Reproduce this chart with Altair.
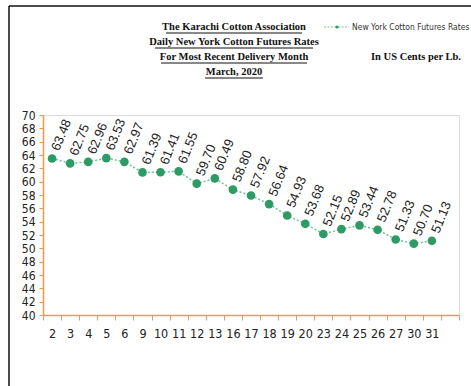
import altair as alt
import pandas as pd

# Daily New York cotton futures, March 2020 (US cents per lb)
days = ["2", "3", "4", "5", "6", "9", "10", "11", "12", "13", "16", "17",
        "18", "19", "20", "23", "24", "25", "26", "27", "30", "31"]
rates = [63.48, 62.75, 62.96, 63.53, 62.97, 61.39, 61.41, 61.55, 59.70, 60.49,
         58.80, 57.92, 56.64, 54.93, 53.68, 52.15, 52.89, 53.44, 52.78, 51.33,
         50.70, 51.13]
y_ticks = list(range(40, 71, 2))

title_lines = ["The Karachi Cotton Association",
               "Daily New York Cotton Futures Rates",
               "For  Most Recent Delivery Month",
               "March,  2020"]
series_name = "New  York  Cotton Futures Rates"
unit_note = "In US Cents per Lb."

ORANGE = "#F79646"
GREEN = "#2E9A66"
LIGHT_GREEN = "#6CC495"
SANS = "DejaVu Sans Condensed, Liberation Sans, sans-serif"
SERIF = "Liberation Serif, serif"

df = pd.DataFrame({"day": days, "rate": rates})
one = pd.DataFrame({"k": [0]})

W, H = 416, 200

x_enc = alt.X(
    "day:N",
    sort=days,
    scale=alt.Scale(type="band", domain=days + [" "], paddingInner=0, paddingOuter=0),
    axis=alt.Axis(title=None, labelAngle=0, tickBand="extent", domainColor=ORANGE,
                  domainWidth=1.5, tickColor=ORANGE, tickSize=5, tickWidth=1,
                  labelPadding=7, labelFont=SANS, labelFontSize=12.5,
                  labelColor="#222222", grid=False),
)
y_enc = alt.Y(
    "rate:Q",
    scale=alt.Scale(domain=[40, 70], nice=False, zero=False),
    axis=alt.Axis(title=None, values=y_ticks, domainColor=ORANGE, domainWidth=1.5,
                  tickColor=ORANGE, tickSize=4, labelPadding=4, labelFont=SANS,
                  labelFontSize=12, labelColor="#222222", grid=False, labelOverlap=False),
)

base = alt.Chart(df).encode(x=x_enc, y=y_enc)

line = base.mark_line(color=LIGHT_GREEN, strokeWidth=1.5, strokeDash=[2, 2])
points = base.mark_circle(color=GREEN, size=75, opacity=1)
labels = base.mark_text(angle=292, align="left", baseline="middle", dx=9,
                        font="Liberation Sans, sans-serif", fontSize=13,
                        color="#222222").encode(text=alt.Text("rate:Q", format=".2f"))

# frame lines along the top and left edges
frame_top = alt.Chart(one).mark_rule(color="#111111", strokeWidth=1.5).encode(
    x=alt.value(-34), x2=alt.value(430), y=alt.value(-109))
frame_left = alt.Chart(one).mark_rule(color="#111111", strokeWidth=1.5).encode(
    x=alt.value(-34), y=alt.value(-109), y2=alt.value(275))

# centred heading block with underlines
title_y = [-88, -73, -58, -43]
under_w = [136, 158, 146, 58]
heading = []
for txt, ty, uw in zip(title_lines, title_y, under_w):
    heading.append(alt.Chart(one).mark_text(
        font=SERIF, fontSize=10.5, fontWeight="bold", align="center",
        baseline="middle", color="#111111").encode(
        x=alt.value(191), y=alt.value(ty), text=alt.value(txt)))
    heading.append(alt.Chart(one).mark_rule(color="#111111", strokeWidth=1).encode(
        x=alt.value(191 - uw / 2), x2=alt.value(191 + uw / 2), y=alt.value(ty + 6)))

# legend
legend_line = alt.Chart(one).mark_rule(color=LIGHT_GREEN, strokeWidth=1.2,
                                       strokeDash=[2, 1.5]).encode(
    x=alt.value(281), x2=alt.value(306), y=alt.value(-88))
legend_dot = alt.Chart(one).mark_circle(color=GREEN, size=10, opacity=1).encode(
    x=alt.value(294), y=alt.value(-88))
legend_text = alt.Chart(one).mark_text(font=SANS, fontSize=8.5, align="left",
                                       baseline="middle", color="#333333").encode(
    x=alt.value(309), y=alt.value(-88), text=alt.value(series_name))

unit_text = alt.Chart(one).mark_text(font=SERIF, fontSize=10.5, fontWeight="bold",
                                     align="center", baseline="middle",
                                     color="#111111").encode(
    x=alt.value(373), y=alt.value(-58), text=alt.value(unit_note))

chart = alt.layer(
    frame_top, frame_left, *heading, legend_line, legend_dot, legend_text, unit_text,
    line, points, labels,
).properties(
    width=W, height=H,
    padding={"left": 43, "top": 115, "right": 12, "bottom": 71},
    autosize="none",
).configure_view(stroke=None).configure(background="white")

chart.save("out.html", embed_options={"renderer": "svg", "actions": False})
